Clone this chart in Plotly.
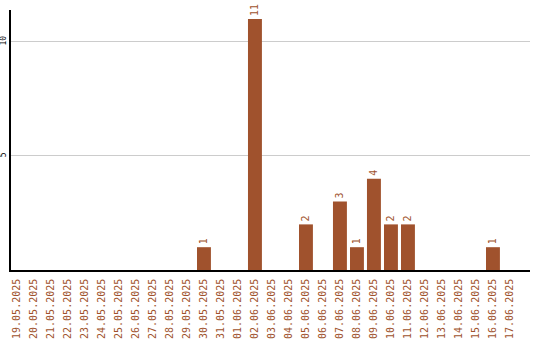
import plotly.graph_objects as go

dates = ["19.05.2025","20.05.2025","21.05.2025","22.05.2025","23.05.2025","24.05.2025",
         "25.05.2025","26.05.2025","27.05.2025","28.05.2025","29.05.2025","30.05.2025",
         "31.05.2025","01.06.2025","02.06.2025","03.06.2025","04.06.2025","05.06.2025",
         "06.06.2025","07.06.2025","08.06.2025","09.06.2025","10.06.2025","11.06.2025",
         "12.06.2025","13.06.2025","14.06.2025","15.06.2025","16.06.2025","17.06.2025"]
counts = [0,0,0,0,0,0,0,0,0,0,0,1,0,0,11,0,0,2,0,3,1,4,2,2,0,0,0,0,1,0]

color = "#A0522D"
labels = [str(v) if v else "" for v in counts]

fig = go.Figure(go.Bar(
    x=dates, y=counts, marker_color=color, marker_line_width=0,
    text=labels, textposition="outside", textangle=-90,
    textfont=dict(family="DejaVu Sans Mono", size=10, color=color),
    cliponaxis=False,
))
fig.update_layout(
    width=540, height=340, margin=dict(l=11, r=10, t=10, b=70),
    plot_bgcolor="white", paper_bgcolor="white", bargap=0.18,
    showlegend=False,
    font=dict(family="DejaVu Sans Mono", size=10),
)
fig.update_xaxes(type="category", range=[-0.35, 30.18], tickangle=-90,
                 tickfont=dict(color=color, size=10, family="DejaVu Sans Mono"),
                 showline=True, linecolor="black", linewidth=1.5, showgrid=False,
                 ticks="", ticklabelstandoff=3, automargin=False)
fig.update_yaxes(range=[0, 11.4], tickvals=[5, 10], tickangle=-90,
                 tickfont=dict(color="black", size=8, family="DejaVu Sans Mono"),
                 showline=True, linecolor="black", linewidth=1.5,
                 gridcolor="#cccccc", gridwidth=1, zeroline=False, ticks="",
                 ticklabelstandoff=0, automargin=False)
fig.write_html("out.html")
